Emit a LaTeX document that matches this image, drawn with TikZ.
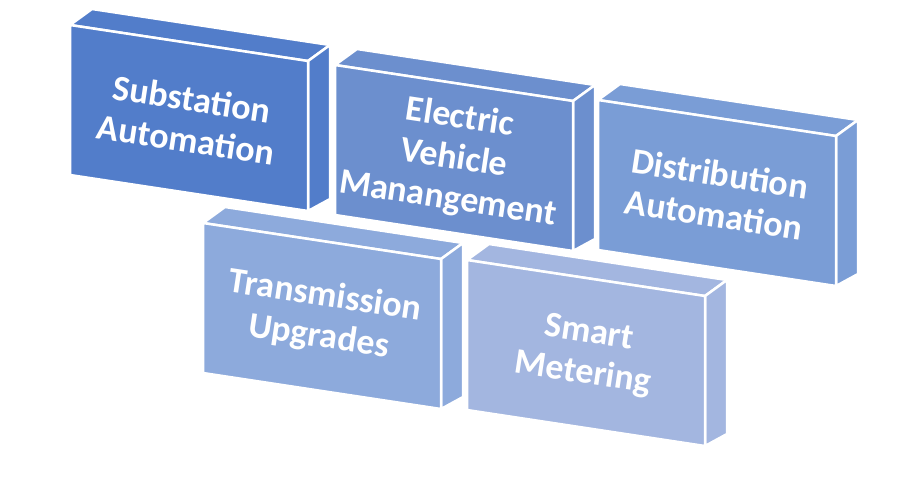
\documentclass[tikz,border=0pt]{standalone}
\usepackage{fontspec}
\setmainfont{Carlito}
\usetikzlibrary{positioning}

\definecolor{slabA}{RGB}{82,125,202}
\definecolor{slabB}{RGB}{108,143,206}
\definecolor{slabC}{RGB}{122,157,214}
\definecolor{slabD}{RGB}{141,170,220}
\definecolor{slabE}{RGB}{163,182,224}

\newcommand{\slab}[5]{%
  \begin{scope}[shift={(#2,#3)}]
    \filldraw[face,fill=#4] (0,0) -- (22,-16) -- (260,20) -- (238,36) -- cycle;
    \filldraw[face,fill=#4] (238,36) -- (260,20) -- (260,174) -- (238,186) -- cycle;
    \filldraw[face,fill=#4] (0,0) -- (238,36) -- (238,186) -- (0,150) -- cycle;
    \node[caption] (#1) at (119,94) {#5};
  \end{scope}}

\begin{document}
\begin{tikzpicture}[x=1pt,y=-1pt,
    face/.style={draw=white,line width=2.5pt,line join=round},
    caption/.style={text=white,align=center,rotate=-8.6,
      font=\fontsize{36}{41}\selectfont\bfseries}]
    \useasboundingbox (0,0) rectangle (900,480);
    \slab{sub}{70}{25}{slabA}{Substation\\Automation}
    \slab{ev}{335}{65}{slabB}{Electric\\Vehicle\\Manangement}
    \slab{dist}{598}{100}{slabC}{Distribution\\Automation}
    \slab{trans}{203}{223}{slabD}{Transmission\\Upgrades}
    \slab{meter}{467}{260}{slabE}{Smart\\Metering}
\end{tikzpicture}
\end{document}
